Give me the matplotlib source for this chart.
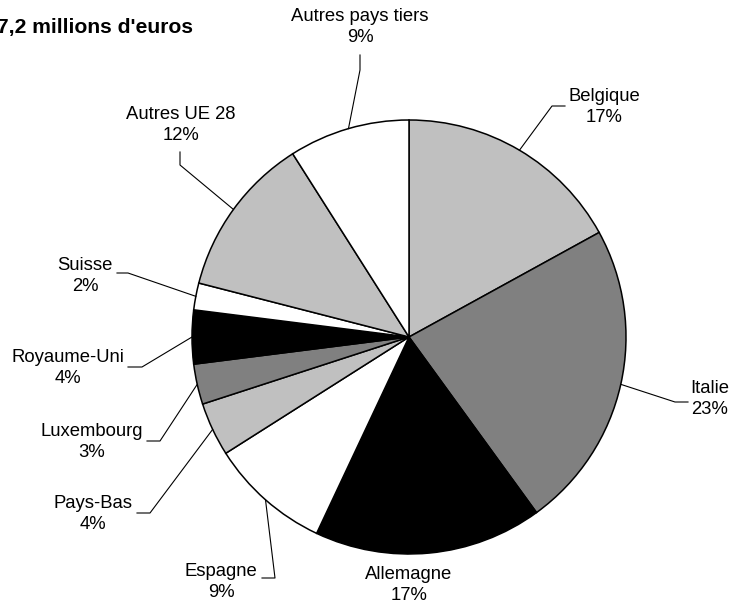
import matplotlib.pyplot as plt
import numpy as np

plt.rcParams['font.family'] = ['Liberation Sans', 'DejaVu Sans']

# parts by destination (%)
pays = ['Belgique', 'Italie', 'Allemagne', 'Espagne', 'Pays-Bas', 'Luxembourg',
        'Royaume-Uni', 'Suisse', 'Autres UE 28', 'Autres pays tiers']
parts = [17, 23, 17, 9, 4, 3, 4, 2, 12, 9]
couleurs = ['#c0c0c0', '#808080', '#000000', '#ffffff', '#c0c0c0', '#808080',
            '#000000', '#ffffff', '#c0c0c0', '#ffffff']
titre = "7,2 millions d'euros"

# layout in pixels (y going down)
W, H = 733, 607
centre = (409, 337)
rayon = 217
# label text centre, and leader elbow points (None = no leader)
pos_texte = [(604, 107), (710, 399), (409, 585), (221, 582), (93, 514),
             (92, 442), (68, 368), (85, 276), (181, 125), (360, 27)]
coudes = [[(565, 106), (552, 106)],
          [(688, 402), (675, 402)],
          None,
          [(262, 578), (275, 578)],
          [(137, 513), (150, 513)],
          [(147, 441), (160, 441)],
          [(128, 367), (142, 367)],
          [(117, 273), (128, 273)],
          [(180, 152), (180, 165)],
          [(360, 55), (360, 70)]]

fig = plt.figure(figsize=(W / 100, H / 100), dpi=100)
ax = fig.add_axes([0, 0, 1, 1])

# y axis is flipped below, so counterclock=True turns clockwise on screen
wedges, _ = ax.pie(parts, colors=couleurs, center=centre, radius=rayon,
                   startangle=-90, counterclock=True,
                   wedgeprops=dict(edgecolor='black', linewidth=1.1))
ax.set_xlim(0, W)
ax.set_ylim(H, 0)
ax.set_aspect('equal')
ax.axis('off')

for w, nom, p, (tx, ty), coude in zip(wedges, pays, parts, pos_texte, coudes):
    ax.text(tx, ty, f'{nom}\n{p}%', ha='center', va='center', fontsize=13.3,
            linespacing=1.38, multialignment='center')
    if coude is None:
        continue
    a = np.deg2rad((w.theta1 + w.theta2) / 2)
    x0 = centre[0] + rayon * np.cos(a)
    y0 = centre[1] + rayon * np.sin(a)
    xs = [c[0] for c in coude] + [x0]
    ys = [c[1] for c in coude] + [y0]
    ax.plot(xs, ys, color='black', linewidth=0.8)

ax.text(-3, 27, titre, ha='left', va='center', fontsize=15.2, fontweight='bold')

fig.savefig('out.png', dpi=100)
